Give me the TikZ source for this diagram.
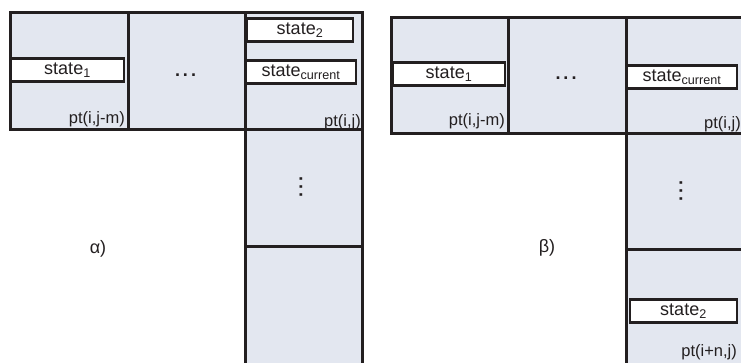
\documentclass[tikz,border=0pt]{standalone}
\usepackage{fontspec}
\setmainfont{Liberation Sans}
\usetikzlibrary{positioning}

\definecolor{cellfill}{RGB}{227,231,240}
\definecolor{linecol}{RGB}{35,31,32}

\begin{document}
\begin{tikzpicture}[
    x=1pt, y=-1pt,
    % Estilos para las celdas y los estados
    celda/.style={draw=linecol, fill=cellfill, line width=2.5pt, anchor=north west, inner sep=0pt, minimum width=118pt, minimum height=117pt},
    estado/.style={draw=linecol, fill=white, line width=2.2pt, inner sep=0pt, minimum height=23pt, text=linecol, font=\fontsize{18}{20}\selectfont},
    punto/.style={anchor=east, inner sep=0pt, text=linecol, font=\fontsize{16.5}{18}\selectfont},
    texto/.style={inner sep=0pt, text=linecol, font=\fontsize{18}{20}\selectfont},
    puntos/.style={inner sep=0pt, text=linecol, font=\fontsize{18}{20}\bfseries}
    ]
    \useasboundingbox (0,0) rectangle (741,362);
    \clip (0,0) rectangle (741,362);

    % CASO ALFA
    \node[celda] (a1) at (9,11) {};
    \node[celda] (a2) at (127,11) {};
    \node[celda, minimum width=117pt] (a3) at (244,11) {};
    \node[celda, minimum width=117pt] (a4) at (244,128) {};
    \node[celda, minimum width=117pt, minimum height=122pt] (a5) at (244,245) {};

    \node[estado, minimum width=113pt] (a_st1) at (67.5,70) {state\textsubscript{1}};
    \node[estado, minimum width=106pt] (a_st2) at (300,30) {state\textsubscript{2}};
    \node[estado, minimum width=110pt] (a_cur) at (301,72) {state\textsubscript{current}};

    \node[punto] (a_pt1) at (125,119) {pt(i,j-m)};
    \node[punto] (a_pt2) at (361,122) {pt(i,j)};

    \node[puntos] (a_hdots) at (185.5,75) {.\hspace{3pt}.\hspace{3pt}.};
    \node[puntos, rotate=-90] (a_vdots) at (301,187) {.\hspace{3pt}.\hspace{3pt}.};
    \node[texto] (a_lbl) at (98,249) {α)};

    % CASO BETA
    \node[celda, minimum width=117pt, minimum height=116pt] (b1) at (390,16) {};
    \node[celda, minimum height=116pt] (b2) at (507,16) {};
    \node[celda, minimum height=116pt] (b3) at (625,16) {};
    \node[celda, minimum height=116pt] (b4) at (625,132) {};
    \node[celda, minimum height=120pt] (b5) at (625,248) {};

    \node[estado, minimum width=112pt] (b_st1) at (449,74) {state\textsubscript{1}};
    \node[estado, minimum width=110pt] (b_cur) at (682,77) {state\textsubscript{current}};
    \node[estado, minimum width=107pt] (b_st2) at (683.5,311) {state\textsubscript{2}};

    \node[punto] (b_pt1) at (505,121) {pt(i,j-m)};
    \node[punto] (b_pt2) at (741,124) {pt(i,j)};
    \node[punto] (b_pt3) at (737,352) {pt(i+n,j)};

    \node[puntos] (b_hdots) at (566,78) {.\hspace{3pt}.\hspace{3pt}.};
    \node[puntos, rotate=-90] (b_vdots) at (681,191) {.\hspace{3pt}.\hspace{3pt}.};
    \node[texto] (b_lbl) at (547,248) {β)};
\end{tikzpicture}
\end{document}
